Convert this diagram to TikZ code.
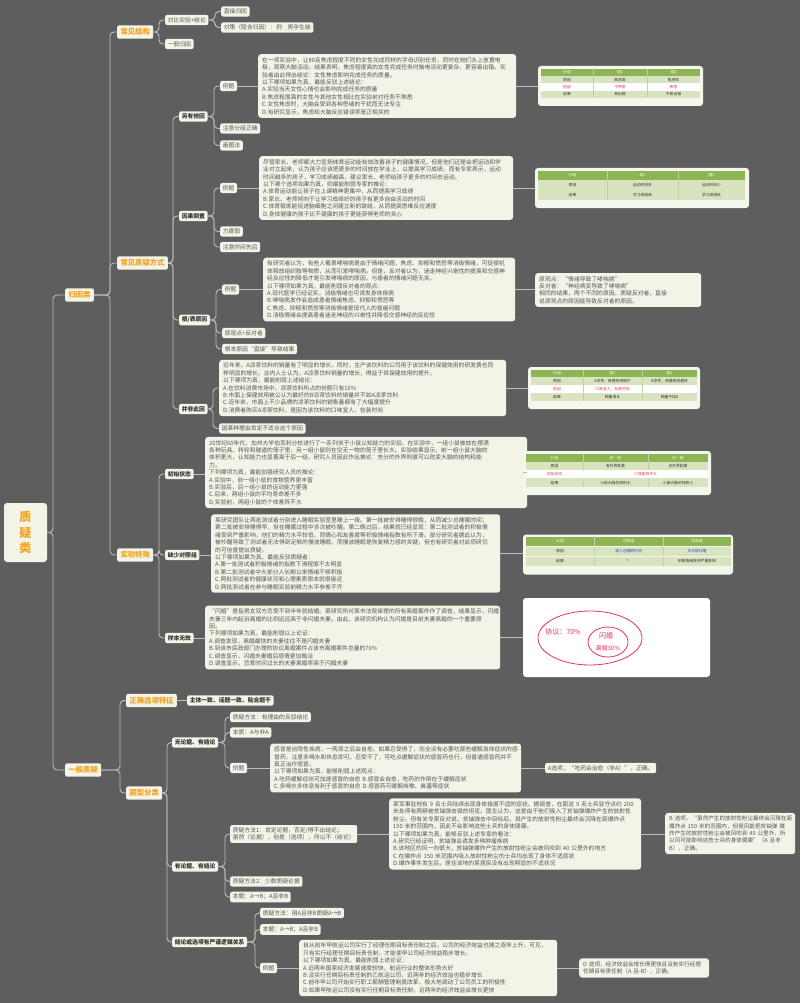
\documentclass[tikz,border=0pt]{standalone}
\usepackage{fontspec}
\setmainfont{Noto Sans CJK SC}
\usetikzlibrary{calc}
\definecolor{bg}{HTML}{5E5E5E}
\definecolor{nodebg}{HTML}{F2F4E8}
\definecolor{linec}{HTML}{BDBDBD}
\definecolor{orangec}{HTML}{F7A21B}
\definecolor{txt}{HTML}{555555}
\definecolor{txtd}{HTML}{333333}
\definecolor{hdr}{HTML}{8DB553}
\definecolor{rowl}{HTML}{D8E4C0}
\definecolor{redc}{HTML}{E8335A}
\definecolor{bluec}{HTML}{3B4FD0}
\definecolor{tblbg}{HTML}{F4F7EC}
\definecolor{tdivc}{HTML}{C2D1A6}
\newcommand\lk[3]{\draw[conn] (#1.east) -| ([xshift=-#3pt]#2.west) -- (#2.west);}
\newcommand\hl[2]{\draw[conn] (#1.east) -- (#1.east -| #2.west);}
\newcommand\trow[7]{\fill[#3] (\ca,#1) rectangle (\cd,#2);
  \draw[tdivc,line width=0.3pt] (\cb,#1) -- (\cb,#2) (\cc,#1) -- (\cc,#2);
  \node[tc,text=#4] at ({(\ca+\cb)/2},{(#1+#2)/2}) {#5};
  \node[tc,text=#4] at ({(\cb+\cc)/2},{(#1+#2)/2}) {#6};
  \node[tc,text=#4] at ({(\cc+\cd)/2},{(#1+#2)/2}) {#7};}
\begin{document}
\begin{tikzpicture}[x=1pt,y=-1pt,
  conn/.style={draw=linec,line width=0.9pt,rounded corners=4pt},
  nb/.style={fill=nodebg,rounded corners=2pt,inner xsep=2.6pt,inner ysep=2.4pt,text=txt,font=\fontsize{5.8}{6.6}\selectfont,anchor=west},
  nbb/.style={nb,text=txtd,font=\fontsize{5.8}{6.6}\selectfont\bfseries},
  cat/.style={nb,inner xsep=3.4pt,inner ysep=3.2pt,text=orangec,font=\fontsize{7.3}{8}\selectfont\bfseries},
  para/.style={nb,align=left,inner xsep=4pt,inner ysep=3.2pt,rounded corners=3pt,font=\fontsize{5.8}{7.4}\selectfont},
  tbl/.style={fill=tblbg,rounded corners=3pt,inner sep=0pt},
  tc/.style={inner sep=0pt,font=\fontsize{3.8}{4.2}\selectfont},
  root/.style={fill=nodebg,rounded corners=3pt,align=center,text=orangec,font=\fontsize{12}{15.5}\selectfont\bfseries,minimum width=43,minimum height=59}]
\fill[bg] (0,0) rectangle (800,1003);
\useasboundingbox (0,0) rectangle (800,1003);

% ---------- nodes ----------
\node[root] (root) at (25.5,532.5) {质\\疑\\类};
\node[cat] (gyl) at (65,295) {归因类};
\node[cat] (ybzy) at (65,770) {一般质疑};

\node[cat] (cjjg) at (117,32) {常见结构};
\node[cat] (cjzy) at (117,263) {常见质疑方式};
\node[cat] (sytx) at (117,555) {实验特殊};
\node[cat] (zqxx) at (126,700.5) {正确选项特征};
\node[cat] (txfl) at (126,793) {题型分类};

\node[nb] (dbsy) at (165,20) {对比实验+结论};
\node[nb] (ybgy) at (165,44) {一般归因};
\node[nb] (zjgy) at (221,11.5) {直接归因};
\node[nb] (duice) at (221,27.5) {对策（隐含归因）：例\quad 男孕生娃};

\node[nbb] (lyty) at (179,116.5) {另有他因};
\node[nb] (e1) at (220,86) {例题};
\node[nb] (fzzq) at (220,128.5) {注意分组正确};
\node[nb] (htf) at (220,145.5) {画图法};
\node[para,text width=250] (p1) at (258,86) {在一项实验中，让80名焦虑程度不同的女性完成同样的字母识别任务，同时在她们头上放置电\\极，观察大脑活动。结果表明，焦虑程度高的女性完成任务时脑电活动更复杂，更容易出错。实\\验者由此得出结论：女性焦虑影响完成任务的质量。\\以下哪项如果为真，最能反驳上述结论：\\A.实验当天女性心情也会影响完成任务的质量\\B.焦虑程度高的女性与其他女性相比在实验前对任务不熟悉\\C.女性焦虑时，大脑会受到各种思绪的干扰而无法专注\\D.有研究显示，焦虑和大脑反应错误率是正相关的};

\node[nbb] (ygdz) at (179,216) {因果倒置};
\node[nb] (e2) at (220,188) {例题};
\node[nb] (ldr) at (220,231.5) {力度弱};
\node[nb] (sjxh) at (220,247) {注意时间先后};
\node[para,text width=246] (p2) at (259,188) {尽管家长、老师都大力宣扬体育运动能有效改善孩子的健康情况，但是他们还是会把运动和学\\业对立起来，认为孩子应该把更多的时间放在学业上，以提高学习成绩。而有专家表示，运动\\时间越多的孩子，学习成绩越高，建议家长、老师给孩子更多的时间去运动。\\以下哪个选项如果为真，则最能削弱专家的推论：\\A.体育运动能让孩子在上课精神更集中，从而提高学习成绩\\B.家长、老师倾向于让学习成绩好的孩子有更多自由活动的时间\\C.体育锻炼能促进脑细胞之间建立新的联结，从而提高思维反应速度\\D.身体健康的孩子比不健康的孩子更能获得老师的关心};

\node[nbb] (gbyy) at (179,320) {根/表原因};
\node[nb] (e3) at (222,289.5) {例题};
\node[nb] (ygdf) at (222,333) {原观点+反对者};
\node[nb] (gbzj) at (222,349) {根本原因“直接”导致结果};
\node[para,text width=244] (p3) at (263,289.5) {有研究者认为，有些人罹患哮喘病是由于情绪问题，焦虑、抑郁和愤怒等消极情绪，可促使机\\体释放组织胺等物质，从而引发哮喘病。但是，反对者认为，迷走神经兴奋性的提高和交感神\\经反应性的降低才是引发哮喘病的原因，与患者的情绪问题无关。\\以下哪项如果为真，最能削弱反对者的观点：\\A.现代医学已经证实，消极情绪也可诱发身体疾病\\B.哮喘病发作会造成患者情绪焦虑、抑郁和愤怒等\\C.焦虑、抑郁和愤怒等消极情绪是现代人的普遍问题\\D.消极情绪会提高患者迷走神经的兴奋性并降低交感神经的反应性};
\node[para,text width=158] (a3) at (535,290) {原观点：“情绪导致了哮喘病”\\反对者：“神经病变导致了哮喘病”\\相同的结果，两个不同的原因。质疑反对者，直接\\说原观点的原因能导致反对者的原因。};

\node[nbb] (bfcy) at (179,409) {并非此因};
\node[para,text width=279] (p4) at (219,388) {近年来，A凉茶饮料的销量有了明显的增长，同时，生产该饮料的公司用于该饮料的保健效用的研发费也同\\样明显的增长。业内人士认为，A凉茶饮料销量的增长，得益于其保健效用的提升。\\以下哪项为真，最能削弱上述结论：\\A.在饮料消费市场中，凉茶饮料所占的份额只有10\%\\B.市面上保健效用被公认为最好的B凉茶饮料的销量并不如A凉茶饮料\\C.近年来，市面上不少品牌的凉茶饮料的销售量都有了大幅度提升\\D.消费者购买A凉茶饮料，是因为该饮料的口味宜人，包装时尚};
\node[nb] (ymzl) at (219,428.5) {因某种理由肯定不适合这个原因};

\node[nbb] (cszt) at (165,474) {初始状态};
\node[para,text width=314] (p5) at (205,472.5) {20世纪60年代，加州大学伯克利分校进行了一系列关于小鼠认知能力的实验。在实验中，一组小鼠被放在摆满\\各种玩具、转轮和隧道的笼子里，另一组小鼠则在空无一物的笼子里长大。实验结果显示，前一组小鼠大脑的\\体积更大，认知能力也显著高于后一组。研究人员因此作出推论：充分的外界刺激可以改变大脑的结构和能\\力。\\下列哪项为真，最能加强研究人员的推论：\\A.实验中，前一组小鼠的食物营养更丰富\\B.实验后，后一组小鼠的运动能力更强\\C.后来，两组小鼠的平均寿命差不多\\D.实验前，两组小鼠的个体差异不大};

\node[nbb] (qsdz) at (165,555) {缺少对照组};
\node[para,text width=281] (p6) at (211,553.5) {某研究团队让两批测试者分别进入睡眠实验室里睡上一夜。第一批被安排睡得很晚，从而减少总睡眠时间；\\第二批被安排睡得早，但在睡眠过程中多次被吵醒。第二晚过后，结果就已经显现：第二批测试者的积极情\\绪受到严重影响，他们的精力水平较低，同情心和友善度等积极情绪指数有所下滑。部分研究者据此认为，\\被吵醒导致了测试者无法得到足够的慢波睡眠，而慢波睡眠是恢复精力感的关键，但也有研究者对此项研究\\的可信度提出质疑。\\以下哪项如果为真，最能反驳质疑者：\\A.第一批测试者积极情绪的指数下滑程度不太明显\\B.第二批测试者中大部分人长期以来情绪不够积极\\C.两批测试者的健康状况和心理素质原本就很接近\\D.两批测试者在参与睡眠实验前精力水平参差不齐};

\node[nbb] (ybwx) at (165,638) {样本无效};
\node[para,text width=287] (p7) at (205,637.5) {“闪婚”是指男女双方恋爱不到半年就结婚。某研究所对某市法院审理的所有离婚案件作了调查，结果显示，闪婚\\夫妻三年内起诉离婚的比例远远高于非闪婚夫妻。由此，该研究机构认为闪婚是目前夫妻离婚的一个重要原\\因。\\下列哪项如果为真，最能削弱以上论证：\\A.调查发现，离婚最快的夫妻往往不是闪婚夫妻\\B.到该市民政部门办理的协议离婚案件占该市离婚案件总量的70\%\\C.调查显示，闪婚夫妻婚后感情更加融洽\\D.调查显示，恋爱时间过长的夫妻离婚率高于闪婚夫妻};

\node[nbb] (ztyz) at (187,700.5) {主体一致、话题一致、贴合题干};

\node[nbb] (wlj) at (172,742.5) {无论据、有结论};
\node[nb] (zyff0) at (230,717) {质疑方法：有理由的反驳结论};
\node[nb] (bz0) at (230,732.5) {本质：A与非A};
\node[nb] (e4) at (230,768) {例题};
\node[para,text width=243] (p8) at (270,768) {感冒是自限性疾病，一两周之后会自愈。如果忍受得了，完全没有必要吃那些缓解身体症状的感\\冒药，注意多喝水和休息即可。忍受不了，可吃点缓解症状的感冒药也行，但普通感冒药并不\\真正治疗感冒。\\以下哪项如果为真，能够削弱上述观点：\\A.吃药缓解症状可加速感冒的自愈 B.感冒会自愈，吃药的作用在于缓解症状\\C.多喝水多休息有利于感冒的自愈 D.感冒药可缓解咳嗽、鼻塞等症状};
\node[nb] (a8) at (545,768) {A选项，“吃药会治愈（非A）”，正确。};

\node[nbb] (ylj) at (172,866.5) {有论据、有结论};
\node[nb,align=left,font=\fontsize{5.8}{7.6}\selectfont] (zyff1) at (230,834) {质疑方法1：肯定论据，否定/得不出结论；\\虽然（论据），但是（选项），所以不（结论）};
\node[para,text width=244] (p9) at (389,834) {某军事驻地有~9~名士兵陆续出现身体极度不适的症状。据调查，在距这~9~名士兵驻守点约~200\\米处停有两辆被贫铀弹击毁的坦克。医生认为，这是由于他们吸入了贫铀弹爆炸产生的放射性\\粉尘。但有关专家反对说，贫铀弹击中目标后，其产生的放射性粉尘最终会沉降在距爆炸点\\150~米的范围内，因此不会影响这些士兵的身体健康。\\以下哪项如果为真，能够反驳上述专家的看法：\\A.研究已经证明，贫铀弹会诱发多种肿瘤疾病\\B.该地区的风一向很大，贫铀弹爆炸产生的放射性粉尘会被风吹到~40~公里外的地方\\C.在爆炸点~150~米范围内吸入放射性粉尘的士兵均出现了身体不适症状\\D.爆炸事件发生后，居住该地的某居民没有出现明显的不适状况};
\node[para,text width=122,font=\fontsize{5.6}{7.4}\selectfont] (a9) at (665,833.5) {B~选项，“虽然产生的放射性粉尘最终会沉降在距\\爆炸点~150~米的范围内，但是风能把贫铀弹~爆\\炸产生的放射性粉尘会被风吹到~40~公里外，所\\以风可能影响这些士兵的身体健康”（A~且非\\B），正确。};
\node[nb] (zyff2) at (230,881.5) {质疑方法2：少数质疑论据};
\node[nb] (bt1) at (230,897) {本题：A→B；A且非B};

\node[nbb] (jlhx) at (172,942) {结论或选项有严谨逻辑关系};
\node[nb] (zyff3) at (260,913) {质疑方法：用A且非B质疑A→B};
\node[nb] (bt2) at (260,929.5) {本题：A→B；A且非B};
\node[nb] (e5) at (260,968) {例题};
\node[para,text width=250] (p10) at (299,968) {自从前年甲航运公司实行了经理任期目标责任制之后，公司的经济效益也随之逐年上升。可见，\\只有实行经理任期目标责任制，才能使甲公司经济效益稳步增长。\\以下哪项如果为真，最能削弱上述论证：\\A.近两年国家经济发展速度较快，航运行业的整体形势大好\\B.没实行任期目标责任制的乙航运公司，近两年的经济效益也稳步增长\\C.前年甲公司开始实行职工薪酬管理制度改革，极大地调动了公司员工的积极性\\D.如果甲航运公司没有实行任期目标责任制，近两年的经济效益会增长更快};
\node[para,text width=122,font=\fontsize{5.6}{7.4}\selectfont] (a10) at (579,968) {D~选项，经济效益会增长得更快且没有实行经理\\任期目标责任制（A~且-B），正确。};

% ---------- tables ----------
\node[tbl,minimum width=165,minimum height=40] (t1) at (620.5,86) {};
\def\ca{541}\def\cb{593}\def\cc{647}\def\cd{700}
\trow{69}{76}{hdr}{white}{分组}{组1}{组2}
\trow{76.4}{83}{rowl}{txtd}{原因}{焦虑高}{焦虑低}
\trow{83}{90.6}{white}{redc}{他因}{不熟悉}{熟悉}
\trow{91}{98}{rowl}{txtd}{结果}{易出错}{不易出错}

\node[tbl,minimum width=214,minimum height=40] (t2) at (642,188) {};
\def\ca{538}\def\cb{607}\def\cc{678}\def\cd{745}
\trow{171}{180}{hdr}{white}{分组}{组1}{组2}
\trow{180.5}{190}{rowl}{txtd}{原因}{运动时间多}{运动时间少}
\trow{190.5}{199.5}{rowl}{txtd}{结果}{学习成绩高}{学习成绩低}

\node[tbl,minimum width=172,minimum height=42] (t3) at (614,388) {};
\def\ca{531}\def\cb{583}\def\cc{642}\def\cd{697}
\trow{370}{377}{hdr}{white}{分组}{组1}{组2}
\trow{377.4}{385}{rowl}{txtd}{原因}{A凉茶，保健效用提升}{B凉茶，保健效用最好}
\trow{385}{393}{white}{redc}{他因}{口味宜人，包装时尚}{}
\trow{393.4}{401}{rowl}{txtd}{结果}{销量增长}{销量不如A}

\node[tbl,minimum width=188,minimum height=44] (t4) at (617,473) {};
\def\ca{526}\def\cb{583}\def\cc{648}\def\cd{708}
\trow{454}{462}{hdr}{white}{分组}{前一组}{后一组}
\trow{462.4}{470}{rowl}{txtd}{原因}{有外界刺激}{无外界刺激}
\fill[white] (526,470) rectangle (708,478);
\node[tc,text=redc] (t4a) at (554.5,474) {初始状态};
\node[tc,text=redc] (t4b) at (645.5,474) {个体差异不大};
\trow{478.4}{487}{rowl}{txtd}{结果}{小鼠大脑的体积大}{小鼠大脑的体积小}

\node[tbl,minimum width=210,minimum height=40] (t5) at (628,554.5) {};
\def\ca{526}\def\cb{594}\def\cc{663}\def\cd{731}
\trow{537}{546}{hdr}{white}{分组}{对照组}{实验组}
\trow{546.5}{556}{rowl}{txtd}{原因}{\textcolor{bluec}{减少总睡眠时间}}{\textcolor{bluec}{多次被吵醒}}
\trow{556.5}{565.5}{rowl}{txtd}{结果}{？}{积极情绪受到严重影响}

\node[tbl,fill=white,minimum width=187,minimum height=79] (venn) at (616.5,637.5) {};
\draw[redc,line width=0.8pt] (590,638) ellipse [x radius=52,y radius=27];
\draw[redc,line width=0.8pt] (608,642) ellipse [x radius=20,y radius=15];
\node[text=redc,inner sep=0pt,font=\fontsize{7}{8}\selectfont] (vt1) at (563,632) {协议：70\%};
\node[text=redc,inner sep=0pt,font=\fontsize{7}{8}\selectfont] (vt2) at (606,636) {闪婚};
\node[text=redc,inner sep=0pt,font=\fontsize{6}{7}\selectfont] (vt3) at (608,648) {离婚30\%};

% ---------- connectors ----------
\lk{root}{gyl}{12}
\lk{root}{ybzy}{12}
\lk{gyl}{cjjg}{7}
\lk{gyl}{cjzy}{7}
\lk{gyl}{sytx}{7}
\lk{cjjg}{dbsy}{6}
\lk{cjjg}{ybgy}{6}
\lk{dbsy}{zjgy}{6}
\lk{dbsy}{duice}{6}
\lk{cjzy}{lyty}{6}
\lk{cjzy}{ygdz}{6}
\lk{cjzy}{gbyy}{6}
\lk{cjzy}{bfcy}{6}
\lk{lyty}{e1}{6}
\lk{lyty}{fzzq}{6}
\lk{lyty}{htf}{6}
\lk{ygdz}{e2}{6}
\lk{ygdz}{ldr}{6}
\lk{ygdz}{sjxh}{6}
\lk{gbyy}{e3}{6}
\lk{gbyy}{ygdf}{6}
\lk{gbyy}{gbzj}{6}
\lk{bfcy}{p4}{6}
\lk{bfcy}{ymzl}{6}
\lk{sytx}{cszt}{6}
\lk{sytx}{qsdz}{6}
\lk{sytx}{ybwx}{6}
\hl{e1}{p1}
\hl{p1}{t1}
\hl{e2}{p2}
\hl{p2}{t2}
\hl{e3}{p3}
\hl{p3}{a3}
\hl{p4}{t3}
\hl{cszt}{p5}
\hl{p5}{t4}
\hl{qsdz}{p6}
\hl{p6}{t5}
\hl{ybwx}{p7}
\hl{p7}{venn}
\lk{ybzy}{zqxx}{6}
\lk{ybzy}{txfl}{6}
\hl{zqxx}{ztyz}
\lk{txfl}{wlj}{5}
\lk{txfl}{ylj}{5}
\lk{txfl}{jlhx}{5}
\lk{wlj}{zyff0}{5}
\lk{wlj}{bz0}{5}
\lk{wlj}{e4}{5}
\hl{e4}{p8}
\hl{p8}{a8}
\lk{ylj}{zyff1}{5}
\lk{ylj}{zyff2}{5}
\lk{ylj}{bt1}{5}
\hl{zyff1}{p9}
\hl{p9}{a9}
\lk{jlhx}{zyff3}{5}
\lk{jlhx}{bt2}{5}
\lk{jlhx}{e5}{5}
\hl{e5}{p10}
\hl{p10}{a10}
\end{tikzpicture}
\end{document}
